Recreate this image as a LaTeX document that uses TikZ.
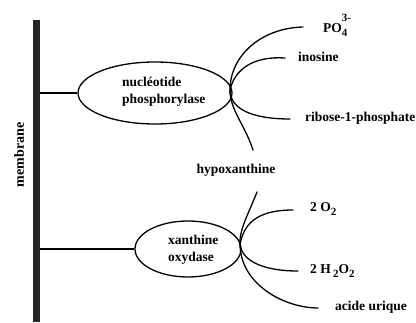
\documentclass[tikz,border=0pt]{standalone}
\usepackage{fontspec}
\setmainfont{Liberation Serif}
\usetikzlibrary{shapes.geometric}
\newcommand\mysub[1]{\raisebox{-3.5pt}{\fontsize{11}{13}\selectfont #1}}
\begin{document}
\begin{tikzpicture}[x=1pt,y=-1pt,
  lbl/.style={font=\fontsize{13.5}{17}\selectfont\bfseries, inner sep=0pt, anchor=west},
  enz/.style={draw, ellipse, line width=1.3pt, inner sep=0pt},
  curve/.style={line width=1.3pt, line cap=round},
  link/.style={line width=1.3pt}]
\useasboundingbox (0,0) rectangle (416,323);
% membrane
\node[fill=black!85, minimum width=7pt, minimum height=302pt, inner sep=0pt] (bar) at (36.5,171) {};
\node[lbl, anchor=center, rotate=90, font=\fontsize{14}{17}\selectfont\bfseries] (mem) at (19,155) {membrane};
% enzymes
\node[enz, minimum width=154pt, minimum height=62pt] (np) at (155,93) {};
\node[lbl, align=left] (nptxt) at (122,92) {nucléotide\\phosphorylase};
\node[enz, minimum width=106pt, minimum height=56pt] (xo) at (188,249) {};
\node[lbl, align=left] (xotxt) at (168,250) {xanthine\\oxydase};
\draw[link] (bar.east |- np.west) -- (np.west);
\draw[link] (bar.east |- xo.west) -- (xo.west);
% crossing points and curve ends
\coordinate (c1) at (230,90);
\coordinate (c2) at (240,245);
\coordinate (ePO) at (303,27);
\coordinate (eIno) at (285,58);
\coordinate (eRib) at (290,119);
\coordinate (eHyp) at (253,150);
\coordinate (eHyp2) at (257,192);
\coordinate (eO2) at (293,210);
\coordinate (eH2O2) at (298,271);
\coordinate (eAU) at (318,308);
% upper reaction
\draw[curve] (eHyp) .. controls (245,125) and (230,110) .. (c1) .. controls (230,55) and (262,28) .. (ePO);
\draw[curve] (eIno) .. controls (255,56) and (235,68) .. (c1) .. controls (230,108) and (250,119) .. (eRib);
% lower reaction
\draw[curve] (eHyp2) .. controls (248,215) and (239,230) .. (c2) .. controls (241,285) and (285,308) .. (eAU);
\draw[curve] (eO2) .. controls (262,210) and (244,220) .. (c2) .. controls (243,262) and (265,271) .. (eH2O2);
% labels
\node[lbl] (po) at (323,27) {PO\raisebox{-4pt}{\fontsize{11}{12}\selectfont\begin{tabular}[b]{@{}l@{}}3-\\[3pt]4\end{tabular}}};
\node[lbl] (ino) at (298,57) {inosine};
\node[lbl] (rib) at (305,118) {ribose-1-phosphate};
\node[lbl, anchor=center] (hyp) at (236,170) {hypoxanthine};
\node[lbl] (o2) at (310,209) {2 O\mysub{2}};
\node[lbl] (h2o2) at (310,271) {2 H\,\mysub{2}O\mysub{2}};
\node[lbl] (au) at (335,307) {acide urique};
\end{tikzpicture}
\end{document}
